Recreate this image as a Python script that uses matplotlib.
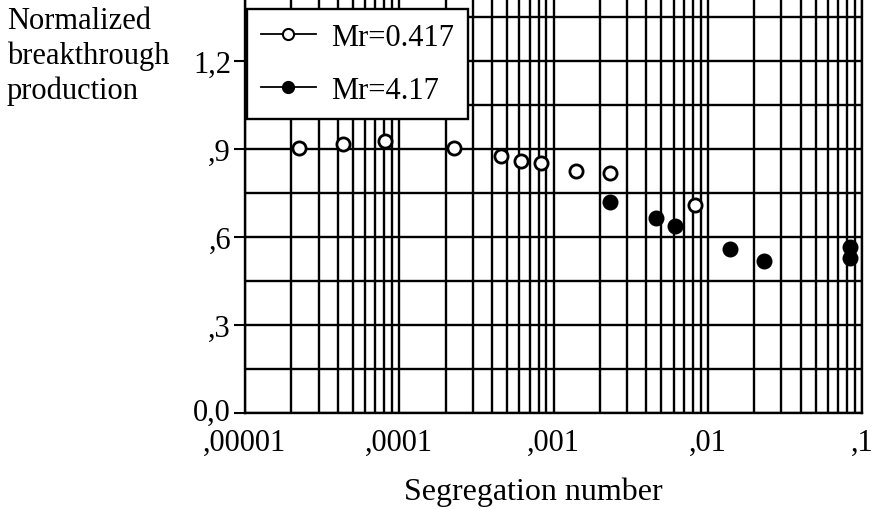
import numpy as np
import matplotlib
matplotlib.use("Agg")
import matplotlib.pyplot as plt
import matplotlib.transforms as mtransforms
from matplotlib.lines import Line2D
from matplotlib.ticker import LogLocator, NullFormatter

plt.rcParams['font.family'] = ['Liberation Serif', 'DejaVu Serif']

# data
seg_low = [2.24e-5, 4.33e-5, 8.06e-5, 2.27e-4, 4.57e-4, 6.13e-4, 8.25e-4, 1.39e-3, 2.32e-3, 8.32e-3]
prod_low = [0.904, 0.917, 0.926, 0.904, 0.874, 0.858, 0.852, 0.825, 0.817, 0.708]
seg_high = [2.32e-3, 4.64e-3, 6.13e-3, 1.39e-2, 2.32e-2, 8.36e-2, 8.36e-2]
prod_high = [0.717, 0.664, 0.637, 0.560, 0.519, 0.567, 0.527]

x_ticks = [1e-5, 1e-4, 1e-3, 1e-2, 1e-1]
x_labels = [',00001', ',0001', ',001', ',01', ',1']
y_ticks = [0.0, 0.3, 0.6, 0.9, 1.2]
y_labels = ['0,0', ',3', ',6', ',9', '1,2']
y_minor = [0.15, 0.45, 0.75, 1.05, 1.35]

fs = 22

fig = plt.figure(figsize=(8.75, 5.1), dpi=100)
ax = fig.add_axes([245/875, 1-414/510, 617/875, 414/510])

ax.set_xscale('log')
ax.set_xlim(1e-5, 1e-1)
ax.set_ylim(0, 1.41)

ax.set_xticks(x_ticks)
ax.set_xticklabels(x_labels, fontsize=fs)
ax.xaxis.set_minor_locator(LogLocator(base=10, subs=np.arange(2, 10)))
ax.xaxis.set_minor_formatter(NullFormatter())
ax.set_yticks(y_ticks)
ax.set_yticklabels(y_labels, fontsize=fs)
ax.set_yticks(y_minor, minor=True)

ax.tick_params(axis='x', which='both', length=0, pad=11)
ax.tick_params(axis='y', which='major', length=8, width=1.5, direction='out', pad=2)
ax.tick_params(axis='y', which='minor', length=0)

# lift the "0,0" label a little so it clears ",00001"
lbl0 = ax.get_yticklabels()[0]
lbl0.set_transform(lbl0.get_transform() + mtransforms.ScaledTranslation(0, 4/100, fig.dpi_scale_trans))

# grid lines on every decade subdivision
ax.grid(True, which='both', color='black', linewidth=1.7)
ax.set_axisbelow(True)

for side in ['left', 'bottom', 'right']:
    ax.spines[side].set_linewidth(1.7)
ax.spines['top'].set_visible(False)

ax.plot(seg_low, prod_low, 'o', ms=9.5, mfc='white', mec='black', mew=2, zorder=3)
ax.plot(seg_high, prod_high, 'o', ms=9.5, mfc='black', mec='black', mew=2, zorder=3)

handles = [
    Line2D([], [], color='black', lw=1.3, marker='o', ms=8, mfc='white', mec='black', mew=1.5),
    Line2D([], [], color='black', lw=1.3, marker='o', ms=8, mfc='black', mec='black', mew=1.5),
]
leg = ax.legend(handles, ['Mr=0.417', 'Mr=4.17'], loc='upper left',
                bbox_to_anchor=(0.003, 0.976), borderaxespad=0, fontsize=fs,
                frameon=True, fancybox=False, framealpha=1, edgecolor='black',
                handlelength=1.8, handletextpad=0.5, labelspacing=0.8,
                borderpad=0.45)
leg.get_frame().set_linewidth(1.7)
leg.set_zorder(5)

fig.text(7/875, 1-7/510, 'Normalized\nbreakthrough\nproduction', fontsize=22,
         ha='left', va='top', linespacing=1.25)
fig.text(533/875, 1-500/510, 'Segregation number', fontsize=23,
         ha='center', va='baseline')

fig.savefig('out.png', dpi=100)
